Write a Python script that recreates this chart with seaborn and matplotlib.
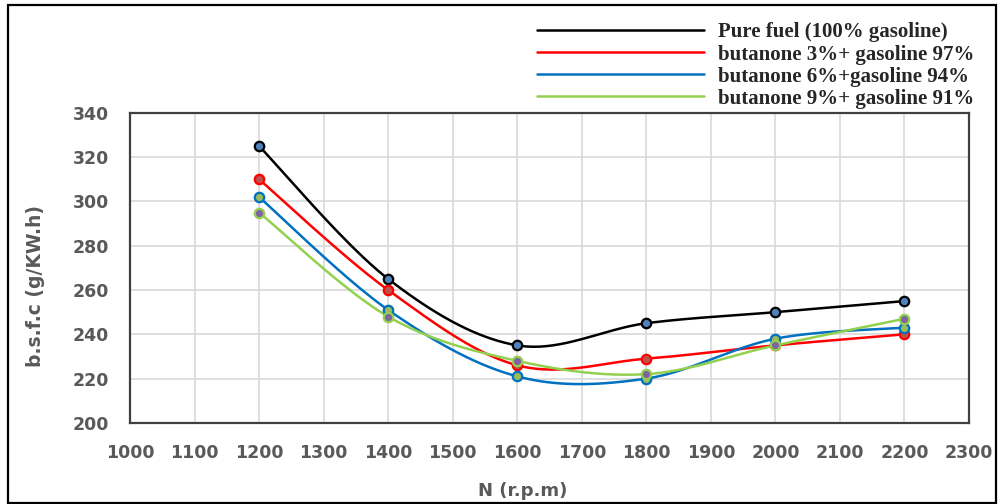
import numpy as np
import pandas as pd
import matplotlib
matplotlib.use("Agg")
import matplotlib.pyplot as plt
import seaborn as sns
from matplotlib.patches import Rectangle

rpm = [1200, 1400, 1600, 1800, 2000, 2200]
pure_fuel = [325, 265, 235, 245, 250, 255]
but_3 = [310, 260, 226, 229, 235, 240]
but_6 = [302, 251, 221, 220, 238, 243]
but_9 = [295, 248, 228, 222, 235, 247]

labels = ["Pure fuel (100% gasoline)",
          "butanone 3%+ gasoline 97%",
          "butanone 6%+gasoline 94%",
          "butanone 9%+ gasoline 91%"]
line_colors = ["#000000", "#FF0000", "#0070C0", "#92D050"]
face_colors = ["#4F81BD", "#C0504D", "#9BBB59", "#8064A2"]


def smooth(xs, ys, n=40):
    # Catmull-Rom spline through the points, similar to Excel's smoothed line
    p = np.column_stack([xs, ys]).astype(float)
    p = np.vstack([p[0], p, p[-1]])
    out = []
    for i in range(1, len(p) - 2):
        p0, p1, p2, p3 = p[i - 1], p[i], p[i + 1], p[i + 2]
        t = np.linspace(0, 1, n, endpoint=(i == len(p) - 3))[:, None]
        seg = 0.5 * ((2 * p1) + (-p0 + p2) * t + (2 * p0 - 5 * p1 + 4 * p2 - p3) * t ** 2
                     + (-p0 + 3 * p1 - 3 * p2 + p3) * t ** 3)
        out.append(seg)
    out = np.vstack(out)
    return out[:, 0], out[:, 1]


sns.set_theme(style="white")
fig = plt.figure(figsize=(10, 5.04), dpi=100)
ax = fig.add_axes([0.130, 0.161, 0.839, 0.615])

for series, lab, lc, fc in zip([pure_fuel, but_3, but_6, but_9], labels, line_colors, face_colors):
    sx, sy = smooth(rpm, series)
    curve = pd.DataFrame({"x": sx, "y": sy})
    sns.lineplot(data=curve, x="x", y="y", ax=ax, color=lc, lw=1.8, sort=False,
                 label=lab, estimator=None)
    pts = pd.DataFrame({"x": rpm, "y": series})
    sns.scatterplot(data=pts, x="x", y="y", ax=ax, s=46, color=fc,
                    edgecolor=lc, linewidth=1.6, zorder=5, legend=False)

ax.set_xlim(1000, 2300)
ax.set_ylim(200, 340)
ax.set_xticks(range(1000, 2301, 100))
ax.set_yticks(range(200, 341, 20))
ax.grid(True, color="#D9D9D9", lw=1.2)
for sp in ax.spines.values():
    sp.set_color("#404040")
    sp.set_linewidth(1.6)
ax.tick_params(axis="x", length=0, labelsize=12.5, labelcolor="#595959", pad=15)
ax.tick_params(axis="y", length=0, labelsize=12.5, labelcolor="#595959", pad=15)
for t in ax.get_xticklabels() + ax.get_yticklabels():
    t.set_fontweight("bold")

ax.set_xlabel("N (r.p.m)", fontsize=13, fontweight="bold", color="#595959")
ax.set_ylabel("b.s.f.c (g/KW.h)", fontsize=13.5, fontweight="bold", color="#595959")
ax.xaxis.set_label_coords(0.468, -0.19)
ax.yaxis.set_label_coords(-0.101, 0.44)

leg = ax.legend(loc="lower left", bbox_to_anchor=(0.480, 1.0), frameon=False,
                borderaxespad=0, borderpad=0.2,
                handlelength=8.0, handletextpad=0.67, labelspacing=0.1,
                prop={"family": "Liberation Serif", "weight": "bold", "size": 15})

fig.patches.append(Rectangle((0.008, 0.002), 0.988, 0.988, transform=fig.transFigure,
                             fill=False, edgecolor="black", lw=1.6))

fig.savefig("out.png", dpi=100)
